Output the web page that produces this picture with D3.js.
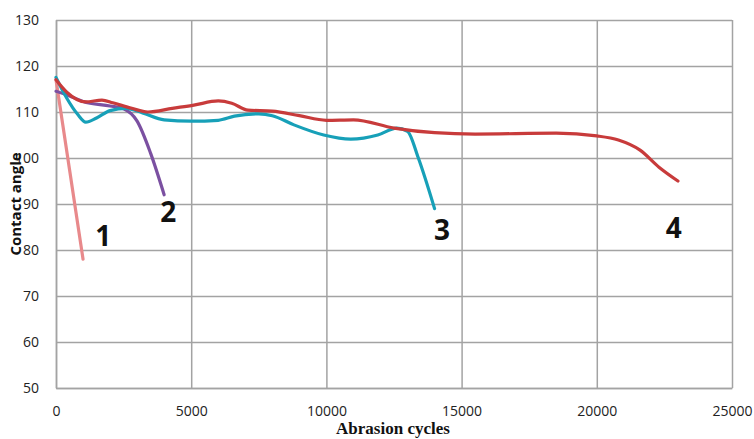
<!DOCTYPE html>
<html>
<head>
<meta charset="utf-8">
<script src="https://cdn.jsdelivr.net/npm/d3@7"></script>
<style>
  body { margin: 0; background: #fff; }
  svg { display: block; }
</style>
</head>
<body>
<div id="chart"></div>
<script>
// series: [abrasion cycles, contact angle]
const series1 = [[0, 117], [500, 97.5], [1000, 78]];
const series2 = [[0, 114.5], [500, 113.5], [1000, 112.3], [2000, 111.3], [2500, 110.7],
  [3000, 108], [3500, 101], [4000, 92]];
const series3 = [[0, 117.5], [400, 113], [800, 109.5], [1100, 107.8], [1500, 108.7],
  [2000, 110.3], [2600, 110.8], [3200, 109.8], [4000, 108.3], [5000, 108], [6000, 108.2],
  [6600, 109.1], [7500, 109.6], [8000, 109.2], [8800, 107.2], [9900, 105], [10900, 104.1],
  [11900, 105], [12600, 106.5], [13000, 105.8], [13400, 100], [14000, 89]];
const series4 = [[0, 117], [400, 114.3], [1100, 112.2], [1700, 112.6], [2100, 112],
  [2800, 110.8], [3400, 110], [4300, 110.8], [5100, 111.5], [6000, 112.4], [6500, 111.9],
  [7100, 110.4], [8000, 110.2], [9000, 109.2], [10000, 108.2], [11000, 108.3], [12500, 106.5],
  [14000, 105.5], [15500, 105.2], [18500, 105.4], [20000, 104.8], [20800, 103.9],
  [21600, 101.7], [22300, 98], [23000, 95]];
const seriesColors = ['#e8898b', '#7b50a1', '#17a0b8', '#c83b3b'];
// curve number labels and where their baselines sit in data space
const curveLabels = ['1', '2', '3', '4'];
const labelPos = [[1750, 80.9], [4150, 86.1], [14280, 82.2], [22850, 82.6]];

const xTicks = [0, 5000, 10000, 15000, 20000, 25000];
const yTicks = [50, 60, 70, 80, 90, 100, 110, 120, 130];

const width = 754, height = 439;
const margin = {left: 56, right: 22, top: 20, bottom: 51};

const svg = d3.select('#chart').append('svg')
  .attr('width', width)
  .attr('height', height);

const x = d3.scaleLinear().domain([0, 25000]).range([margin.left, width - margin.right]);
const y = d3.scaleLinear().domain([50, 130]).range([height - margin.bottom, margin.top]);

const gridColor = '#a3a3a3';

// horizontal grid
svg.append('g')
  .attr('transform', `translate(${margin.left},0)`)
  .call(d3.axisLeft(y).tickValues(yTicks).tickSize(-(width - margin.left - margin.right)).tickFormat(''))
  .call(g => g.select('.domain').remove())
  .call(g => g.selectAll('line').attr('stroke', gridColor).attr('stroke-width', 1.5));

// vertical grid
svg.append('g')
  .attr('transform', `translate(0,${height - margin.bottom})`)
  .call(d3.axisBottom(x).tickValues(xTicks).tickSize(-(height - margin.top - margin.bottom)).tickFormat(''))
  .call(g => g.select('.domain').remove())
  .call(g => g.selectAll('line').attr('stroke', gridColor).attr('stroke-width', 1.5));

// y tick labels
svg.append('g')
  .attr('transform', `translate(${margin.left},0)`)
  .call(d3.axisLeft(y).tickValues(yTicks).tickSize(0).tickPadding(17))
  .call(g => g.select('.domain').attr('stroke', gridColor).attr('stroke-width', 1.5))
  .call(g => g.selectAll('text')
    .attr('font-family', 'Open Sans, sans-serif')
    .attr('font-size', 14)
    .attr('fill', '#222'));

// x tick labels
svg.append('g')
  .attr('transform', `translate(0,${height - margin.bottom})`)
  .call(d3.axisBottom(x).tickValues(xTicks).tickSize(0).tickPadding(18).tickFormat(d3.format('d')))
  .call(g => g.select('.domain').attr('stroke', gridColor).attr('stroke-width', 1.5))
  .call(g => g.selectAll('text')
    .attr('font-family', 'Open Sans, sans-serif')
    .attr('font-size', 14)
    .attr('fill', '#222'));

const line = d3.line()
  .x(d => x(d[0]))
  .y(d => y(d[1]))
  .curve(d3.curveMonotoneX);

const allSeries = [series1, series2, series3, series4];
svg.append('g')
  .selectAll('path')
  .data(allSeries)
  .join('path')
  .attr('d', line)
  .attr('fill', 'none')
  .attr('stroke', (d, i) => seriesColors[i])
  .attr('stroke-width', 3.2)
  .attr('stroke-linecap', 'round')
  .attr('stroke-linejoin', 'round');

svg.append('g')
  .selectAll('text')
  .data(curveLabels)
  .join('text')
  .attr('x', (d, i) => x(labelPos[i][0]))
  .attr('y', (d, i) => y(labelPos[i][1]))
  .attr('text-anchor', 'middle')
  .attr('font-family', 'Open Sans, sans-serif')
  .attr('font-weight', 'bold')
  .attr('font-size', 28)
  .attr('fill', '#111')
  .text(d => d);

// axis titles
svg.append('text')
  .attr('x', 393)
  .attr('y', 434)
  .attr('text-anchor', 'middle')
  .attr('font-family', 'Liberation Serif, serif')
  .attr('font-weight', 'bold')
  .attr('font-size', 17)
  .attr('fill', '#111')
  .text('Abrasion cycles');

svg.append('text')
  .attr('transform', 'translate(21,204) rotate(-90)')
  .attr('text-anchor', 'middle')
  .attr('font-family', 'Open Sans, sans-serif')
  .attr('font-weight', 'bold')
  .attr('font-size', 15)
  .attr('fill', '#111')
  .text('Contact angle');
</script>
</body>
</html>
